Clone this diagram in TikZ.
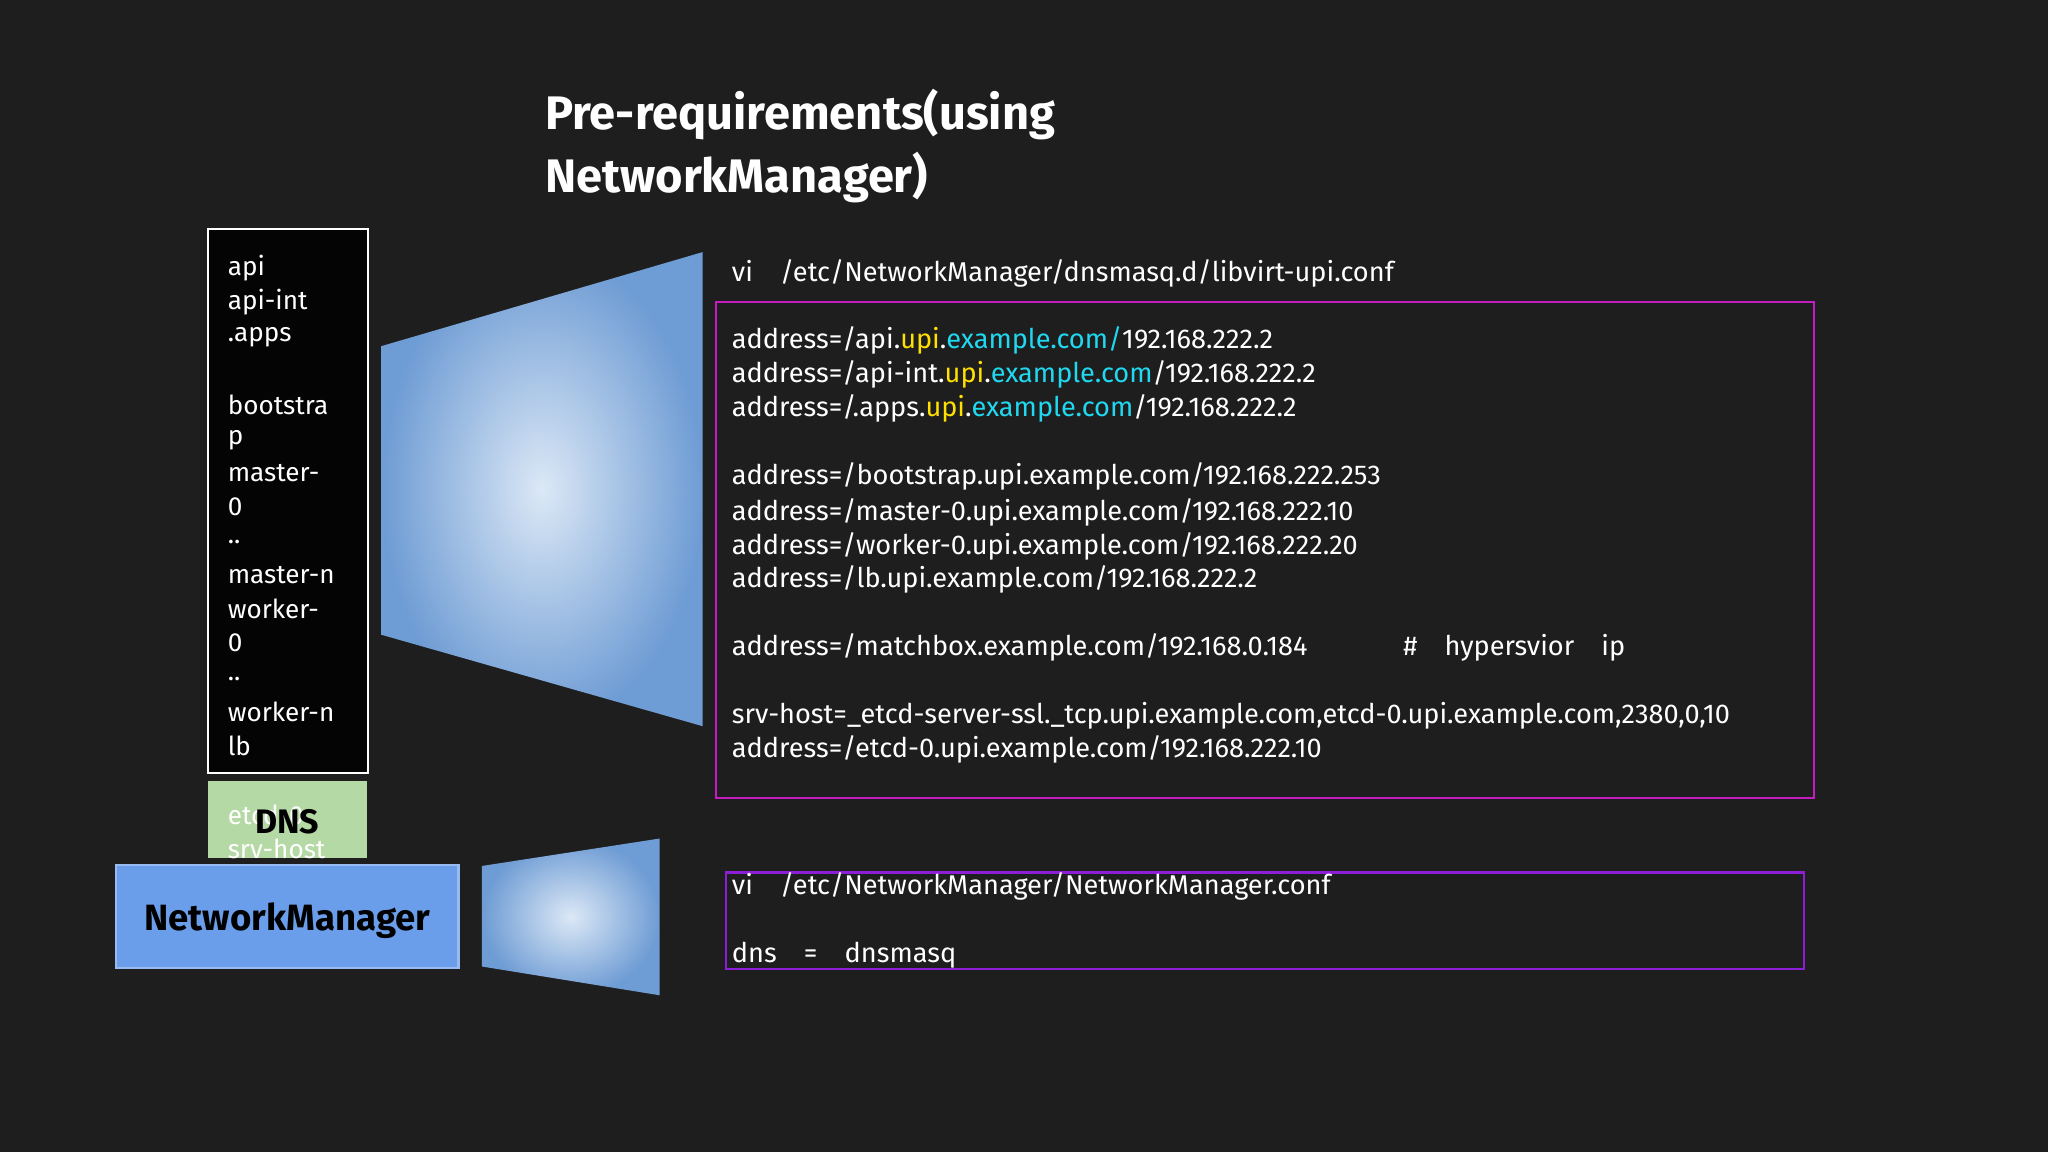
\documentclass[tikz,border=0pt]{standalone}
\usepackage{fontspec}
\setmainfont{Fira Sans}
\usetikzlibrary{shadings}
\definecolor{bg}{HTML}{1E1E1E}
\definecolor{upiy}{HTML}{FFE000}
\definecolor{exc}{HTML}{20D8F0}
\definecolor{mag}{HTML}{C21CC2}
\definecolor{pur}{HTML}{8C1ED8}
\definecolor{nmb}{HTML}{6A9EEA}
\definecolor{dnsg}{HTML}{B5D9A5}
\definecolor{trin}{HTML}{DCE8F6}
\definecolor{trout}{HTML}{6E9CD4}
\tikzset{
  code/.style={anchor=west,text=white,font=\fontsize{10.4}{12}\selectfont,inner sep=0},
  side/.style={anchor=west,text=white,font=\fontsize{10}{12}\selectfont,inner sep=0},
  trap/.style={inner color=trin, outer color=trout},
}
\begin{document}
\begin{tikzpicture}[x=0.5pt,y=-0.5pt]
\fill[bg] (0,0) rectangle (1568,882);
\useasboundingbox (0,0) rectangle (1568,882);
% title
\node[anchor=north west,text=white,font=\fontsize{18}{24}\selectfont\bfseries,align=left,inner sep=0] (title) at (417,68) {Pre-requirements(using\\NetworkManager)};
% trapezoids
\shade[trap] (292,265) -- (538,193) -- (538,556) -- (292,486) -- cycle;
\shade[trap] (369,663) -- (505,642) -- (505,762) -- (369,740) -- cycle;
% left box
\draw[white,fill=black!85!bg,line width=0.8pt] (159,175) rectangle (282,592);
\foreach \t/\y [count=\i] in {api/205,api-int/231,.apps/258,bootstra/310,p/337,master-/362,0/388,../415,master-n/440,worker-/466,0/492,../520,worker-n/545,lb/571}
  \node[side] (s\i) at (174,\y) {\t};
% DNS
\fill[dnsg] (159,598) rectangle (281,657);
\node[side] (e1) at (174,624) {etcd-0};
\node[side] (e2) at (174,650) {srv-host};
\node[text=black,font=\fontsize{13}{15}\selectfont\bfseries,inner sep=0] (dns) at (220,629) {DNS};
% NM
\draw[fill=nmb,draw=nmb!70!white,line width=0.8pt] (89,662) rectangle (351,741);
\node[text=black,font=\fontsize{14}{16}\selectfont\bfseries,inner sep=0] (nm) at (220,705) {NetworkManager};
% code
\node[code] (h1) at (560,209) {vi\quad /etc/NetworkManager/dnsmasq.d/libvirt-upi.conf};
\draw[mag,line width=0.8pt] (548,231) rectangle (1389,611);
\node[code] (c1) at (560,261) {address=/api.\textcolor{upiy}{upi}.\textcolor{exc}{example.com/}192.168.222.2};
\node[code] (c2) at (560,287) {address=/api-int.\textcolor{upiy}{upi}.\textcolor{exc}{example.com}/192.168.222.2};
\node[code] (c3) at (560,313) {address=/.apps.\textcolor{upiy}{upi}.\textcolor{exc}{example.com}/192.168.222.2};
\node[code] (c4) at (560,365) {address=/bootstrap.upi.example.com/192.168.222.253};
\node[code] (c5) at (560,392) {address=/master-0.upi.example.com/192.168.222.10};
\node[code] (c6) at (560,418) {address=/worker-0.upi.example.com/192.168.222.20};
\node[code] (c7) at (560,444) {address=/lb.upi.example.com/192.168.222.2};
\node[code] (c8) at (560,496) {address=/matchbox.example.com/192.168.0.184};
\node[code] (c8b) at (1074,496) {\#\quad hypersvior\quad ip};
\node[code] (c9) at (560,548) {srv-host=\_etcd-server-ssl.\_tcp.upi.example.com,etcd-0.upi.example.com,2380,0,10};
\node[code] (c10) at (560,574) {address=/etcd-0.upi.example.com/192.168.222.10};
\draw[pur,line width=0.8pt] (556,668) rectangle (1381,742);
\node[code] (d1) at (560,679) {vi\quad /etc/NetworkManager/NetworkManager.conf};
\node[code] (d2) at (560,731) {dns\quad =\quad dnsmasq};
\end{tikzpicture}
\end{document}
